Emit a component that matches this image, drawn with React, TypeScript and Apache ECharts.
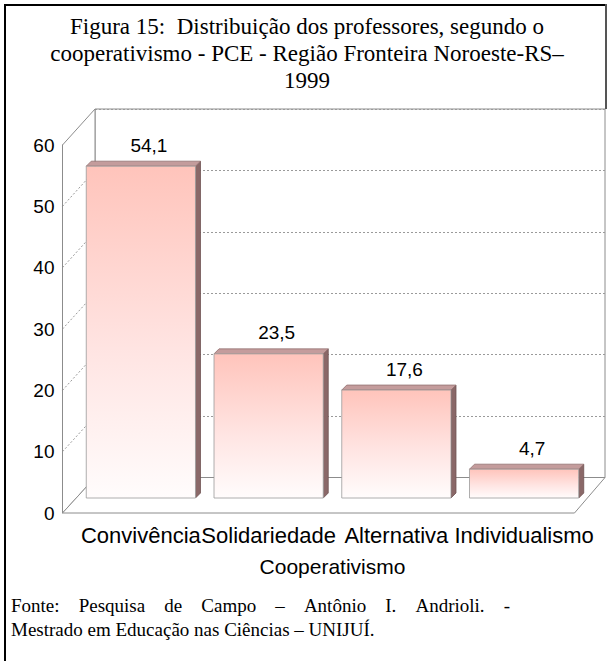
import React, { useEffect, useRef } from "react";
import * as echarts from "echarts";

const categories = ["Convivência", "Solidariedade", "Alternativa", "Individualismo"];
const values = [54.1, 23.5, 17.6, 4.7];
const valueLabels = ["54,1", "23,5", "17,6", "4,7"];
const yMin = 0;
const yMax = 60;
const yStep = 10;
const titleLines = [
  "Figura 15:  Distribuição dos professores, segundo o",
  "cooperativismo - PCE - Região Fronteira Noroeste-RS–",
  "1999",
];
const axisTitle = "Cooperativismo";
const sourceLine1 = ["Fonte:", "Pesquisa", "de", "Campo", "–", "Antônio", "I.", "Andrioli.", "-"];
const sourceLine2 = "Mestrado em Educação nas Ciências – UNIJUÍ.";

// layout (pixels)
const FRONT = { left: 62.5, top: 145, width: 512, height: 368 };
const BACK = { left: 95, top: 109, width: 510, height: 368.5 };
const PLANE = { left: 77, top: 130, width: 511, height: 368 };
const DEPTH = 5;
const SANS = "'Liberation Sans', Arial, sans-serif";
const SERIF = "'Liberation Serif', 'Times New Roman', serif";
const SRC_SIZE = 19;

function measure(text: string, font: string): number {
  const c = document.createElement("canvas").getContext("2d");
  if (!c) return text.length * 9;
  c.font = font;
  return c.measureText(text).width;
}

export default function App() {
  const ref = useRef<HTMLDivElement>(null);
  useEffect(() => {
    if (!ref.current) return;
    const chart = echarts.init(ref.current, null, { renderer: "svg" });
    const yAxisBase = { type: "value", min: yMin, max: yMax, interval: yStep };
    const option: any = {
      animation: false,
      backgroundColor: "#ffffff",
      grid: [
        { ...FRONT, show: false },
        { ...BACK, show: true, borderColor: "#8c8c8c", borderWidth: 1, backgroundColor: "#ffffff" },
        { ...PLANE, show: false },
      ],
      xAxis: [
        { type: "category", gridIndex: 0, data: categories, show: false },
        { type: "category", gridIndex: 1, data: categories, show: false },
        {
          type: "category",
          gridIndex: 2,
          data: categories,
          axisLine: { show: false },
          axisTick: { show: false },
          axisLabel: { margin: 26, fontFamily: SANS, fontSize: 22, color: "#000", interval: 0 },
          name: axisTitle,
          nameLocation: "middle",
          nameGap: 58,
          nameTextStyle: { fontFamily: SANS, fontSize: 21, color: "#000" },
        },
      ],
      yAxis: [
        {
          ...yAxisBase,
          gridIndex: 0,
          axisLine: { show: true, lineStyle: { color: "#8c8c8c", width: 1 } },
          axisTick: { show: false },
          splitLine: { show: false },
          axisLabel: { margin: 8, fontFamily: SANS, fontSize: 19, color: "#000" },
        },
        {
          ...yAxisBase,
          gridIndex: 1,
          axisLine: { show: false },
          axisTick: { show: false },
          axisLabel: { show: false },
          splitLine: { show: true, lineStyle: { color: "#9a9a9a", type: [2, 2], width: 1 } },
        },
        { ...yAxisBase, gridIndex: 2, show: false },
      ],
      series: [
        {
          type: "custom",
          xAxisIndex: 2,
          yAxisIndex: 2,
          z: 10,
          data: values.map((v, i) => [i, v]),
          renderItem: (params: any, api: any) => {
            const idx = api.value(0);
            const v = api.value(1);
            const top = api.coord([idx, v]);
            const base = api.coord([idx, 0]);
            const band = api.size([1, 0])[0];
            const w = band * 0.855;
            const x0 = top[0] - w / 2;
            const x1 = top[0] + w / 2;
            const yt = top[1];
            const yb = base[1];
            const d = DEPTH;
            return {
              type: "group",
              children: [
                {
                  type: "polygon",
                  shape: { points: [[x1, yt], [x1 + d, yt - d], [x1 + d, yb - d], [x1, yb]] },
                  style: { fill: "#8a6868", stroke: "#6e5252", lineWidth: 0.8 },
                },
                {
                  type: "polygon",
                  shape: { points: [[x0, yt], [x1, yt], [x1 + d, yt - d], [x0 + d, yt - d]] },
                  style: { fill: "#c49c9c", stroke: "#927070", lineWidth: 0.8 },
                },
                {
                  type: "rect",
                  shape: { x: x0, y: yt, width: w, height: yb - yt },
                  style: {
                    fill: new echarts.graphic.LinearGradient(0, 0, 0, 1, [
                      { offset: 0, color: "#ffc4bb" },
                      { offset: 0.55, color: "#ffe4e2" },
                      { offset: 1, color: "#fffcfc" },
                    ]),
                    stroke: "#9a9a9a",
                    lineWidth: 0.8,
                  },
                },
                {
                  type: "text",
                  x: top[0] + 8,
                  y: yt - 21,
                  style: {
                    text: valueLabels[idx],
                    fill: "#000",
                    fontFamily: SANS,
                    fontSize: 19,
                    align: "center",
                    verticalAlign: "middle",
                  },
                },
              ],
            };
          },
        },
      ],
    };
    chart.setOption(option);

    // side wall & floor, from the axes' own scales
    const ticks: number[] = [];
    for (let t = yMin; t <= yMax; t += yStep) ticks.push(t);
    const fy = (v: number) => chart.convertToPixel({ yAxisIndex: 0 }, v) as number;
    const by = (v: number) => chart.convertToPixel({ yAxisIndex: 1 }, v) as number;
    const fl = FRONT.left;
    const fr = FRONT.left + FRONT.width;
    const bl = BACK.left;
    const br = BACK.left + BACK.width;
    const gray = "#8c8c8c";
    const graphic: any[] = [
      {
        type: "polygon",
        z: 0,
        shape: { points: [[fl, fy(yMax)], [bl, by(yMax)], [bl, by(yMin)], [fl, fy(yMin)]] },
        style: { fill: "#ffffff", stroke: gray, lineWidth: 1 },
      },
      {
        type: "polygon",
        z: 0,
        shape: { points: [[fl, fy(yMin)], [bl, by(yMin)], [br, by(yMin)], [fr, fy(yMin)]] },
        style: { fill: "#ffffff", stroke: gray, lineWidth: 1 },
      },
    ];
    ticks.slice(1, -1).forEach((t) => {
      graphic.push({
        type: "line",
        z: 0,
        shape: { x1: fl, y1: fy(t), x2: bl, y2: by(t) },
        style: { stroke: "#9a9a9a", lineWidth: 1, lineDash: [2, 2] },
      });
    });
    // frame
    graphic.push(
      { type: "line", z: 20, shape: { x1: 5, y1: 4, x2: 5, y2: 661 }, style: { stroke: "#000", lineWidth: 2 } },
      { type: "line", z: 20, shape: { x1: 4, y1: 5, x2: 607, y2: 5 }, style: { stroke: "#000", lineWidth: 2 } },
      { type: "line", z: 20, shape: { x1: 606, y1: 4, x2: 606, y2: by(yMax) }, style: { stroke: "#555", lineWidth: 2 } }
    );
    // title
    titleLines.forEach((line, i) => {
      graphic.push({
        type: "text",
        z: 20,
        x: 307,
        y: 26 + i * 27,
        style: { text: line, fill: "#000", fontFamily: SERIF, fontSize: 23, align: "center", verticalAlign: "middle" },
      });
    });
    // source note (justified first line)
    const srcFont = `${SRC_SIZE}px ${SERIF}`;
    const widths = sourceLine1.map((w) => measure(w, srcFont));
    const left = 11;
    const right = 510;
    const gap = (right - left - widths.reduce((a, b) => a + b, 0)) / (sourceLine1.length - 1);
    let cx = left;
    sourceLine1.forEach((word, i) => {
      graphic.push({
        type: "text",
        z: 20,
        x: cx,
        y: 605,
        style: { text: word, fill: "#000", fontFamily: SERIF, fontSize: SRC_SIZE, align: "left", verticalAlign: "middle" },
      });
      cx += widths[i] + gap;
    });
    graphic.push({
      type: "text",
      z: 20,
      x: left,
      y: 629,
      style: { text: sourceLine2, fill: "#000", fontFamily: SERIF, fontSize: SRC_SIZE, align: "left", verticalAlign: "middle" },
    });
    chart.setOption({ graphic });

    return () => chart.dispose();
  }, []);
  return <div ref={ref} style={{ position: "fixed", left: 0, top: 0, width: 614, height: 661 }} />;
}
